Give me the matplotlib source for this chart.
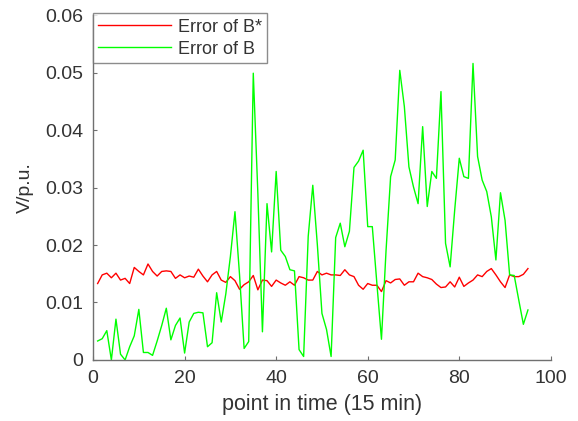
import numpy as np
import matplotlib
matplotlib.use("Agg")
import matplotlib.pyplot as plt

## Data
t = np.arange(1, 96)

err_b_star = [
    0.0133, 0.0148, 0.0151, 0.0143, 0.0151, 0.0139, 0.0142, 0.0133, 0.0161, 0.0154,
    0.0148, 0.0167, 0.0154, 0.0146, 0.0154, 0.0155, 0.0154, 0.0142, 0.0148, 0.0143,
    0.0146, 0.0144, 0.0158, 0.0146, 0.0136, 0.0148, 0.0154, 0.0139, 0.0135, 0.0145,
    0.0138, 0.0123, 0.0131, 0.0136, 0.0147, 0.0122, 0.0139, 0.0138, 0.0128, 0.0139,
    0.0134, 0.0130, 0.0136, 0.0130, 0.0145, 0.0143, 0.0139, 0.0139, 0.0154, 0.0148,
    0.0151, 0.0148, 0.0148, 0.0147, 0.0157, 0.0148, 0.0145, 0.0130, 0.0123, 0.0133,
    0.0130, 0.0130, 0.0119, 0.0138, 0.0134, 0.0140, 0.0141, 0.0130, 0.0136, 0.0136,
    0.0151, 0.0145, 0.0143, 0.0140, 0.0132, 0.0126, 0.0127, 0.0136, 0.0127, 0.0144,
    0.0128, 0.0134, 0.0139, 0.0148, 0.0145, 0.0154, 0.0159, 0.0148, 0.0136, 0.0126,
    0.0148, 0.0145, 0.0145, 0.0149, 0.0159,
]

err_b = [
    0.0033, 0.0037, 0.0051, 0.0000, 0.0071, 0.0010, 0.0000, 0.0023, 0.0042, 0.0088,
    0.0013, 0.0013, 0.0008, 0.0033, 0.0060, 0.0090, 0.0035, 0.0060, 0.0073, 0.0012,
    0.0066, 0.0081, 0.0083, 0.0082, 0.0023, 0.0030, 0.0117, 0.0066, 0.0115, 0.0180,
    0.0258, 0.0148, 0.0020, 0.0032, 0.0499, 0.0290, 0.0049, 0.0272, 0.0188, 0.0328,
    0.0191, 0.0180, 0.0157, 0.0155, 0.0018, 0.0006, 0.0215, 0.0304, 0.0200, 0.0081,
    0.0053, 0.0006, 0.0213, 0.0238, 0.0197, 0.0224, 0.0335, 0.0346, 0.0365, 0.0232,
    0.0232, 0.0133, 0.0036, 0.0190, 0.0319, 0.0348, 0.0504, 0.0441, 0.0336, 0.0301,
    0.0272, 0.0406, 0.0267, 0.0328, 0.0316, 0.0467, 0.0203, 0.0162, 0.0261, 0.0351,
    0.0319, 0.0316, 0.0516, 0.0354, 0.0313, 0.0293, 0.0249, 0.0174, 0.0291, 0.0243,
    0.0148, 0.0147, 0.0104, 0.0062, 0.0087,
]

x_ticks = [0, 20, 40, 60, 80, 100]
y_ticks = [0, 0.01, 0.02, 0.03, 0.04, 0.05, 0.06]
y_tick_labels = ['0', '0.01', '0.02', '0.03', '0.04', '0.05', '0.06']

## Style
plt.rcParams['font.family'] = ['Liberation Sans', 'DejaVu Sans']
AXIS_GRAY = '#707070'
TEXT_GRAY = '#333333'

fig = plt.figure(figsize=(5.78, 4.21), dpi=100)
ax = fig.add_axes([0.161, 0.145, 0.792, 0.819])

ax.plot(t, err_b_star, color='#ff0000', lw=1.0, label='Error of B*')
ax.plot(t, err_b, color='#00ff00', lw=1.0, label='Error of B')

ax.set_xlim(0, 100)
ax.set_ylim(0, 0.06)
ax.set_xticks(x_ticks)
ax.set_yticks(y_ticks)
ax.set_yticklabels(y_tick_labels)

for side in ['top', 'right']:
    ax.spines[side].set_visible(False)
for side in ['left', 'bottom']:
    ax.spines[side].set_color(AXIS_GRAY)
    ax.spines[side].set_linewidth(1.0)

ax.tick_params(direction='in', length=3, width=0.8, color=AXIS_GRAY,
               labelcolor=TEXT_GRAY, labelsize=14, pad=7)

ax.set_xlabel('point in time (15 min)', fontsize=15.5, color=TEXT_GRAY, labelpad=5)
ax.set_ylabel('V/p.u.', fontsize=14, color=TEXT_GRAY, labelpad=8)

leg = ax.legend(loc='upper left', bbox_to_anchor=(0.0, 1.006), fontsize=13,
                frameon=True, fancybox=False, handlelength=4.0, handletextpad=0.4,
                borderaxespad=0.0, borderpad=0.3, labelspacing=0.28)
leg.get_frame().set_edgecolor(AXIS_GRAY)
leg.get_frame().set_linewidth(1.0)
for txt in leg.get_texts():
    txt.set_color(TEXT_GRAY)

fig.savefig('out.png', dpi=100)
